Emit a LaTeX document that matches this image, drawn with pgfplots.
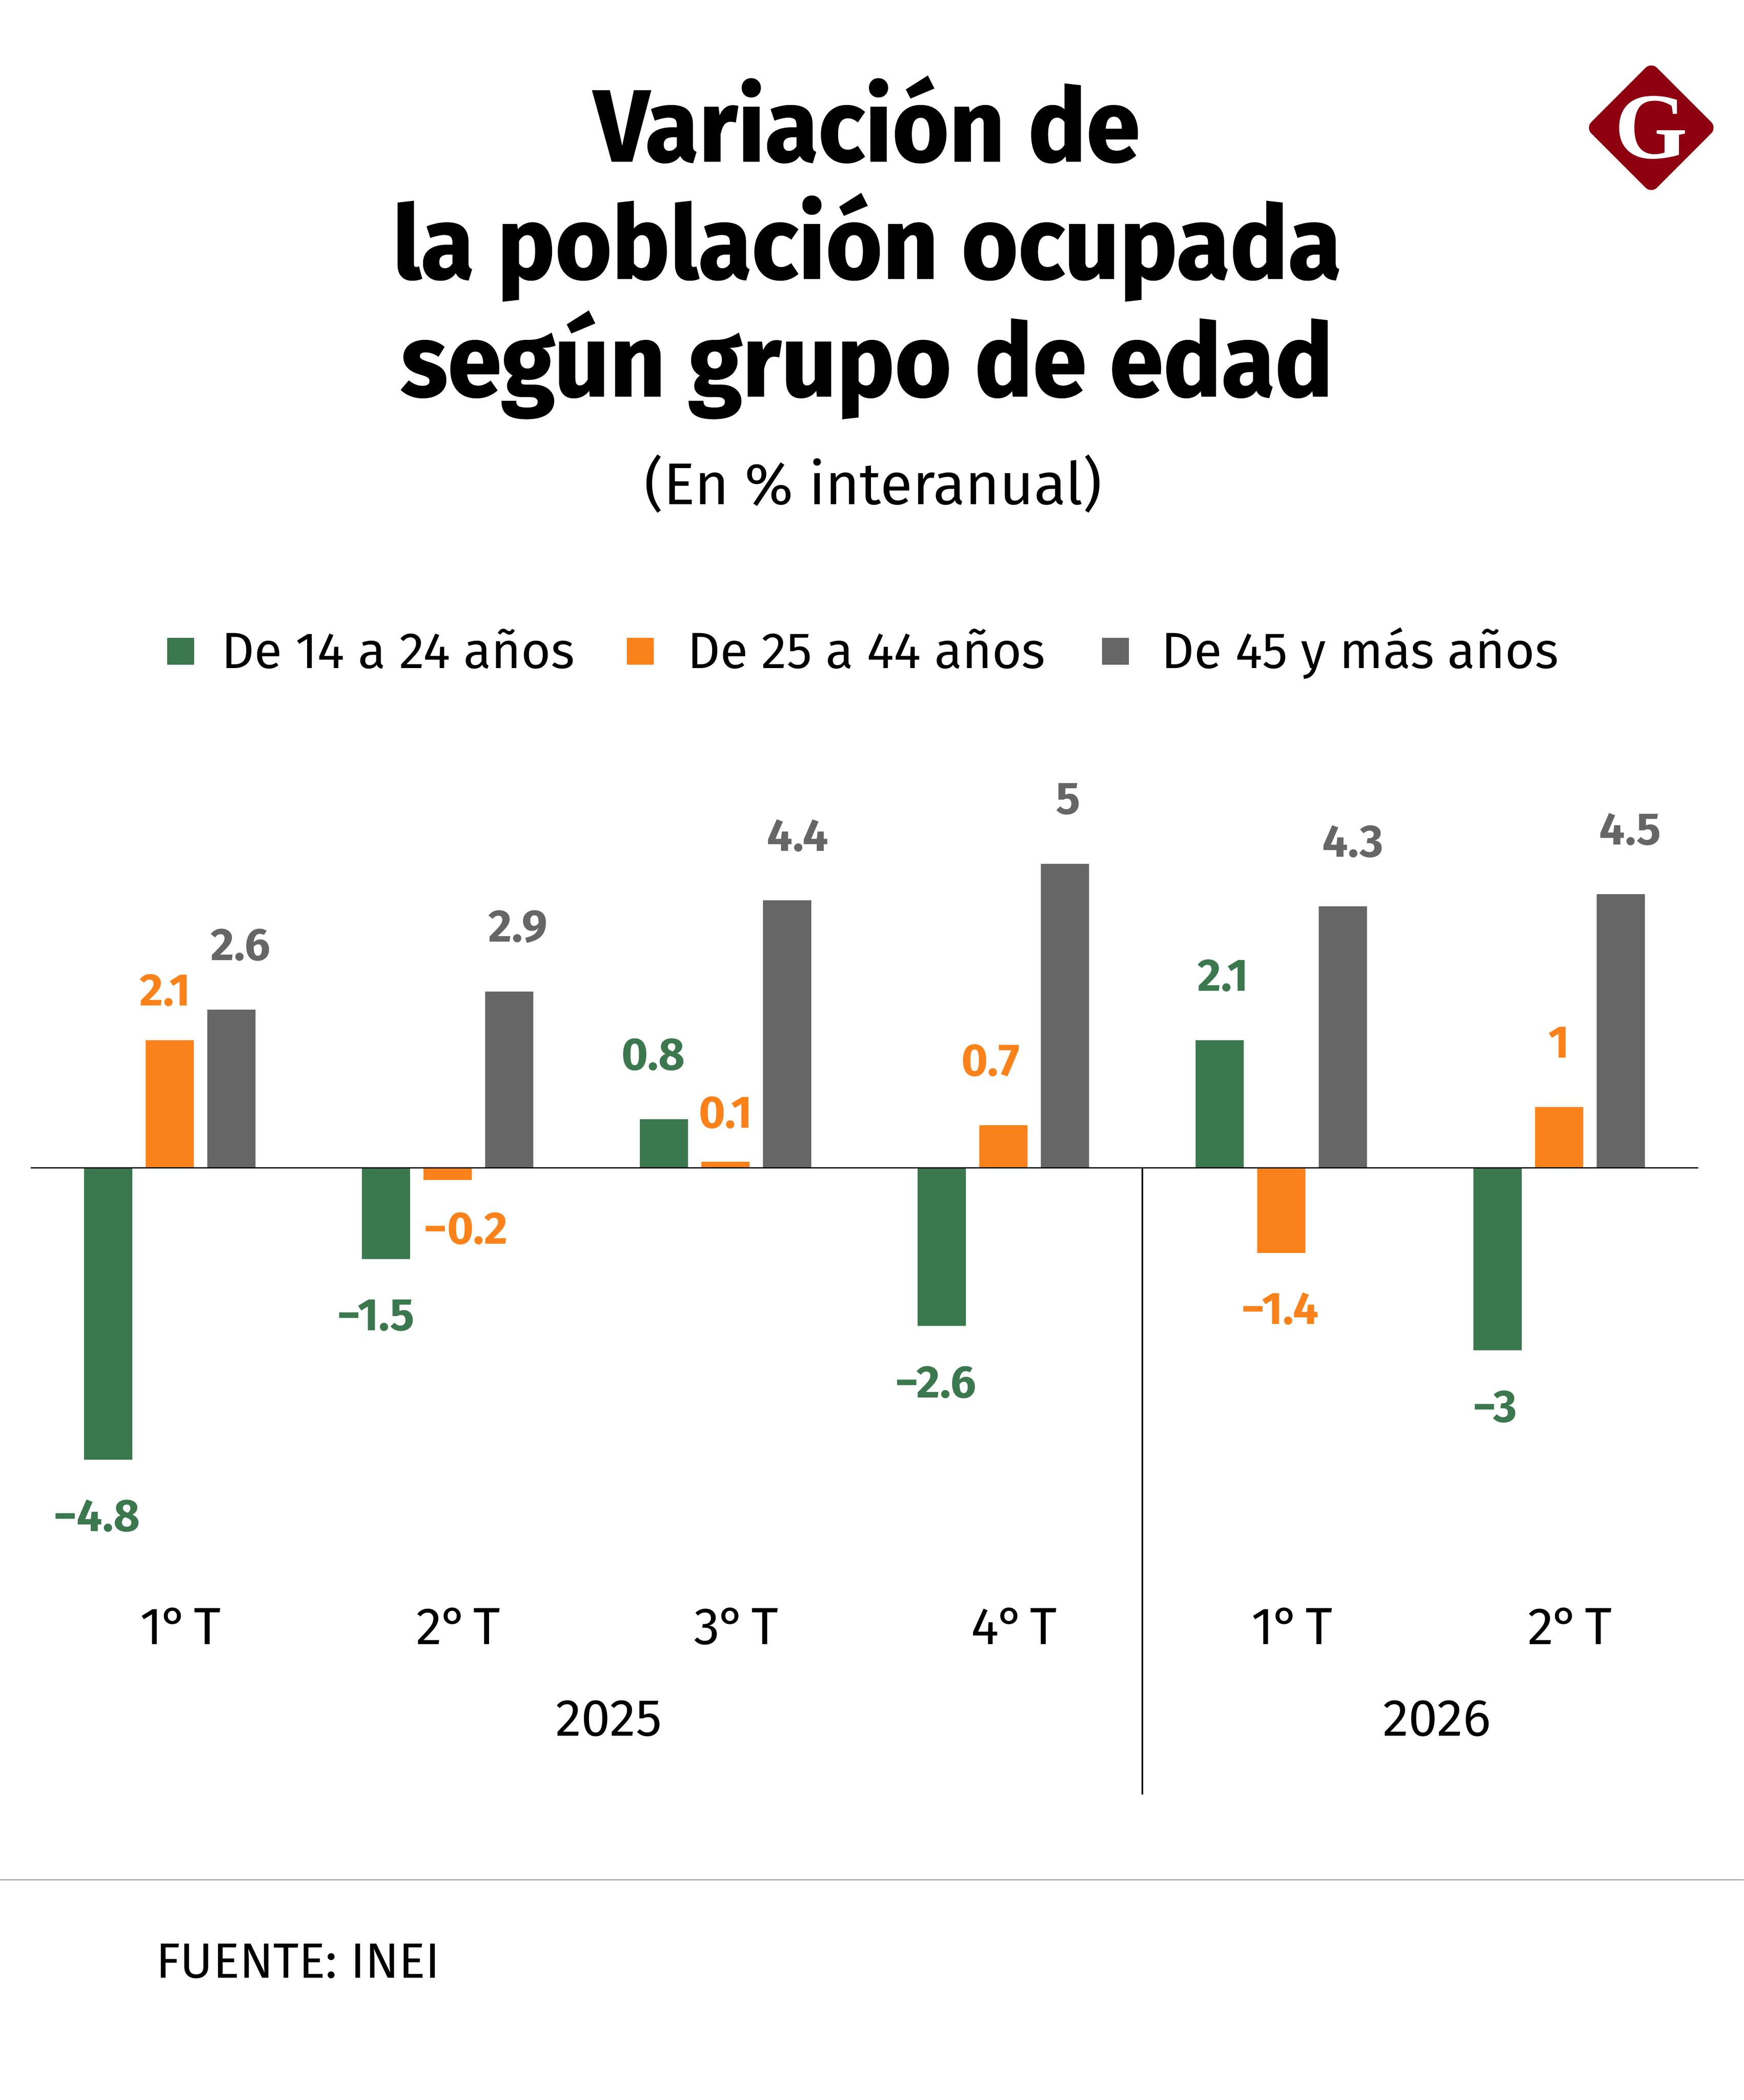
\documentclass[border=0pt]{standalone}
\usepackage{fontspec}
\setmainfont{Fira Sans}
\newfontfamily\titlefont{Fira Sans}[FakeStretch=0.955, FakeBold=1]
\newfontfamily\logofont{Liberation Serif}
\usepackage{pgfplots}
\usepackage{pgfplotstable}
\pgfplotsset{compat=1.18}
\definecolor{cgreen}{HTML}{3B784E}
\definecolor{corange}{HTML}{FB821B}
\definecolor{cgray}{HTML}{666666}
\definecolor{logored}{HTML}{8E0010}
\newcommand\lblfont{\fontsize{17}{17}\selectfont\bfseries}
\newcommand\legfont{\fontsize{19}{20}\selectfont}
\newcommand\tickfont{\fontsize{19.5}{20}\selectfont}

% off = vertical shift (pt) of the label centre from the bar end, xoff = horizontal nudge (pt)
\pgfplotstableread{
x y lab off xoff
0 -4.8 −4.8 -21.05 -4.25
1 -1.5 −1.5 -21.05 -3.75
2 0.8 0.8 24.15 -4
3 -2.6 −2.6 -21.05 -2.25
4 2.1 2.1 24.15 1.25
5 -3 −3 -21.05 -1
}\tgreen
\pgfplotstableread{
x y lab off xoff
0 2.1 2.1 18.65 -1.75
1 -0.2 −0.2 -18.15 6.75
2 0.1 0.1 18.35 0
3 0.7 0.7 24.15 -4.75
4 -1.4 −1.4 -20.85 -0.5
5 1 1 24.15 0
}\torange
\pgfplotstableread{
x y lab off xoff
0 2.6 2.6 24.15 3.5
1 2.9 2.9 24.15 3.25
2 4.4 4.4 24.15 4
3 5 5 24.15 1.25
4 4.3 4.3 24.15 3.75
5 4.5 4.5 24.15 3.5
}\tgray

\begin{document}
\begin{tikzpicture}
\useasboundingbox (0,0) rectangle (651pt,784pt);
% title
\node[anchor=base, inner sep=0pt] at (323.7pt,723.8pt) {\titlefont\bfseries\fontsize{38}{38}\selectfont Variación de};
\node[anchor=base, inner sep=0pt] at (323.7pt,680pt) {\titlefont\bfseries\fontsize{38}{38}\selectfont la población ocupada};
\node[anchor=base, inner sep=0pt] at (323.7pt,636.1pt) {\titlefont\bfseries\fontsize{38}{38}\selectfont según grupo de edad};
\node[anchor=base, inner sep=0pt] at (326pt,595.6pt) {\fontsize{22}{22}\selectfont (En \% interanual)};
% logo
\fill[logored, rounded corners=3pt] (616.5pt,760.8pt) -- (641pt,736.3pt) -- (616.5pt,711.8pt) -- (592pt,736.3pt) -- cycle;
\node[text=white, inner sep=0pt] at (616.5pt,736.3pt) {\logofont\bfseries\fontsize{35}{35}\selectfont G};
% legend
\fill[cgreen] (62.5pt,535.8pt) rectangle ++(10pt,10pt);
\node[anchor=base west, inner sep=0pt] at (82.5pt,534.5pt) {\legfont De 14 a 24 años};
\fill[corange] (234pt,535.8pt) rectangle ++(10pt,10pt);
\node[anchor=base west, inner sep=0pt] at (256.5pt,534.5pt) {\legfont De 25 a 44 años};
\fill[cgray] (411.5pt,535.8pt) rectangle ++(10pt,10pt);
\node[anchor=base west, inner sep=0pt] at (433.5pt,534.5pt) {\legfont De 45 y más años};

\begin{axis}[
  at={(11.5pt,211.8pt)}, anchor=south west,
  scale only axis, width=622.5pt, height=272.4pt,
  xmin=-0.5, xmax=5.5, ymin=-6, ymax=6,
  clip=false,
  axis line style={draw=none},
  major tick length=0pt,
  ytick=\empty,
  xtick={0,...,5},
  xticklabels={{1\kern-0.5pt°\kern2pt T},{2\kern-0.5pt°\kern2pt T},{3\kern-0.5pt°\kern2pt T},{4\kern-0.5pt°\kern2pt T},{1\kern-0.5pt°\kern2pt T},{2\kern-0.5pt°\kern2pt T}},
  x tick label style={anchor=base, yshift=-41.7pt, xshift=4pt, inner sep=0pt, font=\tickfont},
  ybar, bar width=18pt,
  point meta=explicit symbolic,
  nodes near coords,
]
\addplot[fill=cgreen, draw=none, bar shift=-23pt,
  visualization depends on={\thisrow{off} \as \off},
  visualization depends on={\thisrow{xoff} \as \xoff},
  every node near coord/.append style={anchor=center, yshift=\off, xshift=\xoff, inner sep=0pt, font=\lblfont, text=cgreen}]
  table[x=x, y=y, meta=lab] {\tgreen};
\addplot[fill=corange, draw=none, bar shift=0pt,
  visualization depends on={\thisrow{off} \as \off},
  visualization depends on={\thisrow{xoff} \as \xoff},
  every node near coord/.append style={anchor=center, yshift=\off, xshift=\xoff, inner sep=0pt, font=\lblfont, text=corange}]
  table[x=x, y=y, meta=lab] {\torange};
\addplot[fill=cgray, draw=none, bar shift=23pt,
  visualization depends on={\thisrow{off} \as \off},
  visualization depends on={\thisrow{xoff} \as \xoff},
  every node near coord/.append style={anchor=center, yshift=\off, xshift=\xoff, inner sep=0pt, font=\lblfont, text=cgray}]
  table[x=x, y=y, meta=lab] {\tgray};
\draw[line width=0.6pt] (axis cs:-0.5,0) -- (axis cs:5.5,0);
\draw[line width=0.5pt] (axis cs:3.5,0) -- (axis cs:3.5,-10.31);
\node[anchor=base, inner sep=0pt, font=\tickfont] at (axis cs:1.58,-9.34) {2025};
\node[anchor=base, inner sep=0pt, font=\tickfont] at (axis cs:4.56,-9.34) {2026};
\end{axis}
% footer
\draw[black!45, line width=0.4pt] (0,82.2pt) -- (651pt,82.2pt);
\node[anchor=base west, inner sep=0pt] at (58pt,45.5pt) {\fontsize{18.5}{19}\selectfont FUENTE: INEI};
\end{tikzpicture}
\end{document}
